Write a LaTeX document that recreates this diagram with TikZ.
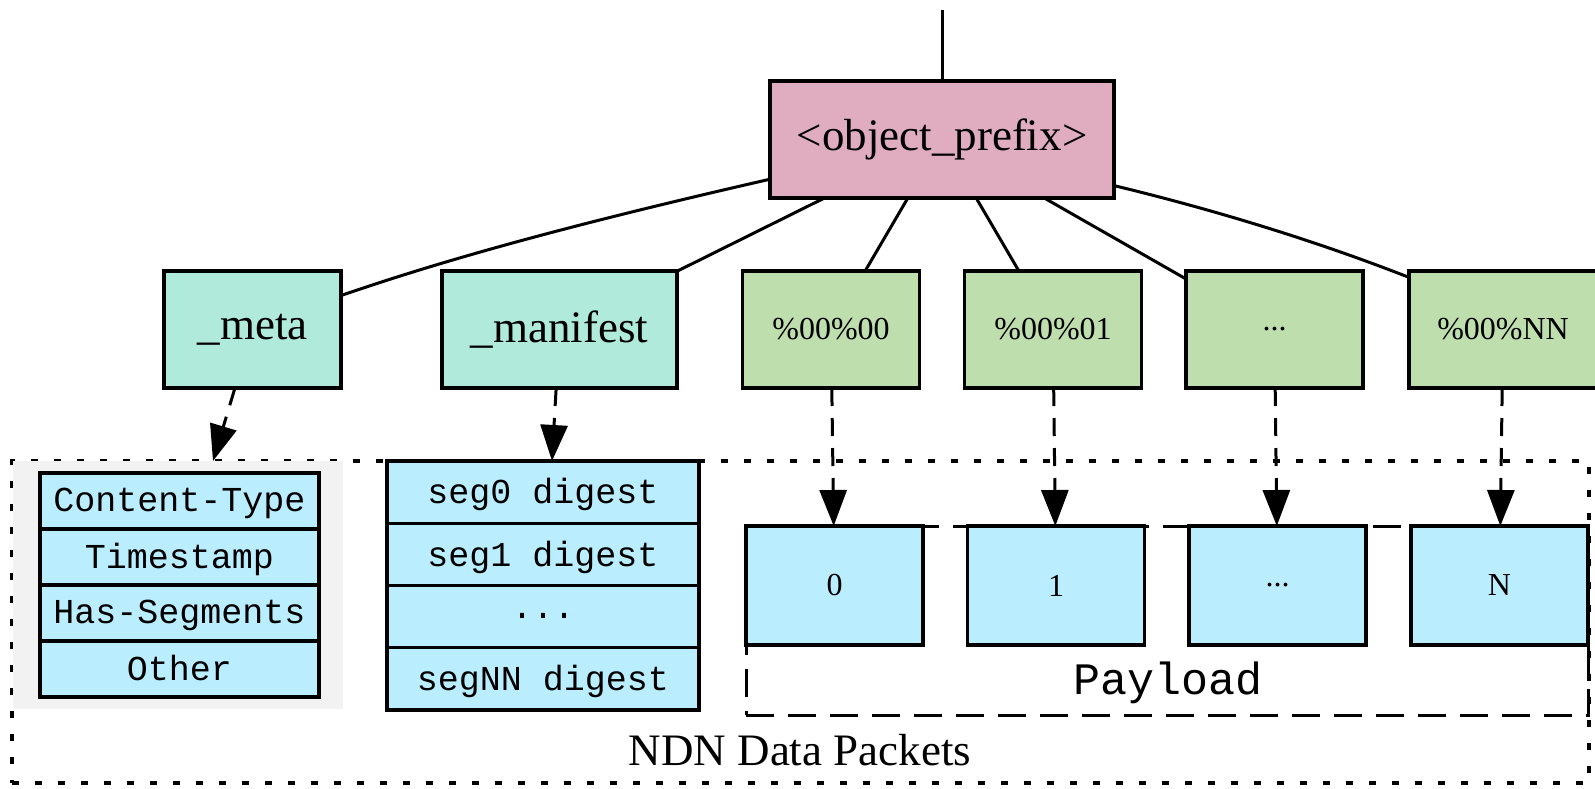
\documentclass[tikz,border=0pt]{standalone}
\usepackage{fontspec}
\setmainfont{Liberation Serif}
\setmonofont{Liberation Mono}
\usetikzlibrary{arrows.meta,calc}

\definecolor{prefixpink}{HTML}{DFADBF}
\definecolor{compteal}{HTML}{AFEADA}
\definecolor{seggreen}{HTML}{BFDEAD}
\definecolor{pktblue}{HTML}{BAEEFE}
\definecolor{tablegray}{HTML}{F2F2F2}

\tikzset{
  box/.style={draw=black, line width=1.6pt, rectangle, inner sep=0pt, outer sep=0pt},
  bigtext/.style={font=\fontsize{22.5}{27}\selectfont},
  smalltext/.style={font=\fontsize{16}{19}\selectfont},
  prefixbox/.style={box, bigtext, fill=prefixpink, minimum width=172pt, minimum height=58.5pt},
  compbox/.style={box, bigtext, fill=compteal, minimum height=58.5pt},
  segbox/.style={box, smalltext, fill=seggreen, minimum width=88.5pt, minimum height=58.5pt},
  pktbox/.style={box, smalltext, fill=pktblue, minimum width=88.5pt, minimum height=59.5pt},
  metarow/.style={box, fill=pktblue, font=\fontsize{17.5}{21}\ttfamily, text depth=1pt, minimum width=139.5pt, minimum height=28pt},
  manirow/.style={box, fill=pktblue, font=\fontsize{17.5}{21}\ttfamily, text depth=1pt, minimum width=156pt, minimum height=31.125pt},
  link/.style={line width=1.5pt},
  ptr/.style={line width=1.5pt, dash pattern=on 9pt off 6pt, -{Triangle[length=18pt,width=13.5pt]}},
  ndnframe/.style={draw=black, line width=1.6pt, dash pattern=on 3.5pt off 8pt, rectangle, inner sep=0pt, outer sep=0pt},
  payframe/.style={draw=black, line width=1.5pt, dash pattern=on 14pt off 7pt, rectangle, inner sep=0pt, outer sep=0pt},
}

\begin{document}
\begin{tikzpicture}[x=0.5pt, y=-0.5pt]
\useasboundingbox (0,0) rectangle (1595,788);

% clusters
\node[ndnframe, minimum width=788.5pt, minimum height=161pt] (ndn) at (800.5,622) {};
\node[bigtext, anchor=base] (ndnlabel) at (800,765) {NDN Data Packets};
\node[payframe, minimum width=421pt, minimum height=94.5pt] (payload) at (1167,620.5) {};
\node[anchor=base, font=\fontsize{22.5}{27}\ttfamily] (paylabel) at (1168,694) {Payload};

% name tree
\coordinate (root) at (942,10);
\node[prefixbox] (prefix) at (942,139.5) {<object\_prefix>};
\node[compbox, minimum width=88.5pt] (meta) at (252.5,329.5) {\_meta};
\node[compbox, minimum width=117.5pt] (manifest) at (559.5,329.5) {\_manifest};
\node[segbox] (g0) at (831,329.5) {\%00\%00};
\node[segbox] (g1) at (1053,329.5) {\%00\%01};
\node[segbox] (g2) at (1274.5,329.5) {...};
\node[segbox, minimum width=94pt] (gN) at (1503,329.5) {\%00\%NN};

% metadata packet
\node[fill=tablegray, inner sep=0pt, outer sep=0pt, minimum width=165pt, minimum height=124pt] (metabg) at (178,585) {};
\node[metarow] (mt1) at (179.5,501) {Content-Type};
\node[metarow] (mt2) at (179.5,557) {Timestamp};
\node[metarow] (mt3) at (179.5,613) {Has-Segments};
\node[metarow] (mt4) at (179.5,669) {Other};

% manifest packet
\node[manirow] (mf1) at (543,492.1) {seg0 digest};
\node[manirow] (mf2) at (543,554.4) {seg1 digest};
\node[manirow] (mf3) at (543,616.6) {...};
\node[manirow] (mf4) at (543,678.9) {segNN digest};

% payload packets
\node[pktbox] (b0) at (834.5,585.5) {0};
\node[pktbox] (b1) at (1056,585.5) {1};
\node[pktbox] (b2) at (1277.5,585.5) {...};
\node[pktbox] (bN) at (1499.5,585.5) {N};

% tree edges
\draw[link] (root) -- (prefix);
\draw[link] (prefix.193) .. controls +(-210,48) and +(99,-34) .. (meta.21);
\draw[link] (prefix) -- (manifest);
\draw[link] (prefix) -- (g0);
\draw[link] (prefix) -- (g1);
\draw[link] (prefix) -- (g2);
\draw[link] (prefix.345.5) .. controls +(116,28) and +(-79,-31) .. (gN.151.8);

% name to packet
\draw[ptr] (meta) -- ($(metabg.north)+(35,0)$);
\draw[ptr] (manifest) -- ($(mf1.north)+(9,0)$);
\draw[ptr] (g0) -- (b0);
\draw[ptr] (g1) -- (b1);
\draw[ptr] (g2) -- (b2);
\draw[ptr] (gN) -- (bN);
\end{tikzpicture}
\end{document}
